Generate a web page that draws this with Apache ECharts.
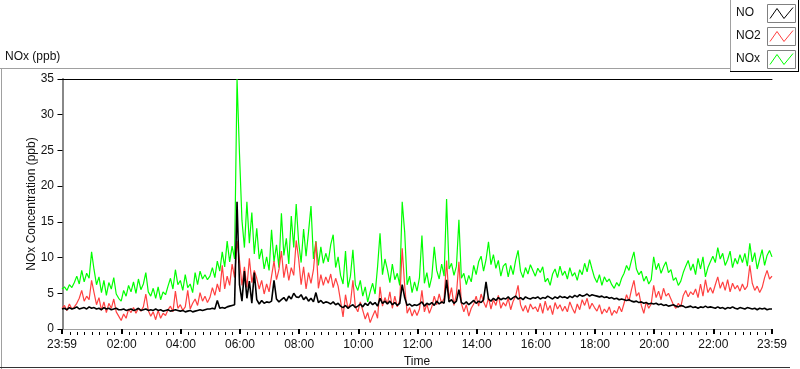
<!DOCTYPE html>
<html>
<head>
<meta charset="utf-8">
<script src="https://cdn.jsdelivr.net/npm/echarts@6/dist/echarts.min.js"></script>
<style>
  html, body { margin: 0; padding: 0; background: #fff; }
  #chart { width: 800px; height: 369px; }
</style>
</head>
<body>
<div id="chart"></div>
<script>
// samples every 5 minutes, starting at 23:59 (minute -1 of the day)
const stepMinutes = 5
const startMinute = -1

const seriesNames = ['NO', 'NO2', 'NOx']

// x axis: minutes from midnight and the labels shown at them
const tickMinutes = [-1, 120, 240, 360, 480, 600, 720, 840, 960, 1080, 1200, 1320, 1439]
const tickLabels = ['23:59', '02:00', '04:00', '06:00', '08:00', '10:00', '12:00', '14:00', '16:00', '18:00', '20:00', '22:00', '23:59']

// NO (ppb), one row per hour
const noValues = [
  2.8, 2.9, 2.7, 3.0, 2.8, 2.9, 3.1, 2.8, 2.9, 3.0, 2.8, 3.1,
  2.9, 3.0, 2.8, 2.9, 2.7, 3.0, 2.8, 2.9, 2.7, 2.8, 2.9, 2.7,
  2.7, 2.8, 2.6, 2.7, 2.8, 2.6, 2.7, 2.9, 2.6, 2.7, 2.8, 2.6,
  2.7, 2.6, 2.8, 2.6, 2.7, 2.5, 2.6, 2.7, 2.5, 2.6, 2.7, 2.6,
  2.5, 2.6, 2.4, 2.5, 2.6, 2.4, 2.5, 2.6, 2.7, 2.6, 2.7, 2.8,
  2.8, 2.9, 2.8, 4.0, 2.9, 3.0, 2.9, 3.1, 3.2, 3.3, 3.4, 17.8,
  6.2, 3.9, 8.1, 4.3, 6.7, 3.6, 7.9, 4.1, 3.5, 4.0, 3.6, 3.8,
  3.7, 3.9, 6.8, 4.2, 3.8, 4.1, 4.4, 3.9, 4.6, 4.2, 5.0, 4.5,
  4.4, 4.8, 4.1, 4.5, 3.9, 4.3, 3.8, 5.1, 3.7, 4.0, 3.6, 3.8,
  3.7, 3.5, 3.8, 3.4, 3.6, 3.2, 3.0, 3.3, 2.9, 3.2, 3.4, 3.0,
  3.2, 3.5, 3.1, 3.6, 3.3, 3.8, 3.4, 3.7, 3.2, 4.3, 3.6, 3.9,
  3.5, 3.9, 3.4, 3.7, 3.3, 3.6, 6.2, 4.4, 3.3, 3.5, 3.2, 3.4,
  3.3, 3.5, 3.8, 3.2, 3.6, 3.4, 3.7, 3.3, 3.9, 3.5, 3.8, 3.6,
  6.9, 3.8, 4.1, 3.6, 3.9, 5.5, 3.7, 3.5, 3.8, 3.4, 3.7, 4.0,
  3.6, 3.9, 3.7, 4.1, 6.6, 4.2, 3.9, 4.3, 4.0, 4.4, 4.1, 4.3,
  4.2, 4.5, 4.1, 4.4, 4.6, 4.2, 4.4, 4.1, 4.5, 4.3, 4.2, 4.4,
  4.3, 4.5, 4.2, 4.4, 4.3, 4.6, 4.4, 4.2, 4.5, 4.3, 4.6, 4.4,
  4.5, 4.3, 4.6, 4.4, 4.7, 4.5, 4.8, 4.6, 4.7, 4.9, 4.6, 4.8,
  4.7, 4.6, 4.5, 4.6, 4.4, 4.5, 4.3, 4.4, 4.2, 4.3, 4.1, 4.2,
  4.1, 4.0, 4.1, 3.9, 3.8, 3.9, 3.7, 3.8, 3.6, 3.7, 3.5, 3.6,
  3.5, 3.6, 3.4, 3.5, 3.3, 3.4, 3.2, 3.3, 3.4, 3.2, 3.1, 3.3,
  3.2, 3.0, 3.1, 3.2, 3.0, 3.1, 2.9, 3.1, 3.0, 3.2, 3.0, 3.1,
  3.0, 2.9, 3.1, 2.9, 3.0, 2.8, 3.0, 2.9, 3.1, 2.9, 2.8, 3.0,
  2.9, 2.8, 3.0, 2.9, 2.8, 2.9, 2.7, 2.9, 2.8, 2.9, 2.7, 2.8,
  2.8
]

// NO2 (ppb)
const no2Values = [
  2.9, 3.3, 2.6, 3.5, 2.8, 3.1, 3.6, 4.3, 5.4, 3.9, 4.6, 4.1,
  6.8, 5.1, 3.4, 4.4, 2.6, 3.8, 2.3, 3.6, 2.9, 4.2, 2.4, 1.8,
  1.2, 2.1, 1.5, 2.8, 2.3, 3.0, 2.2, 2.9, 2.5, 3.1, 4.9, 2.6,
  1.8, 2.4, 1.3, 2.6, 1.5, 2.2, 1.9, 2.7, 3.2, 2.4, 5.3, 2.9,
  3.4, 2.6, 3.1, 5.4, 2.8, 3.6, 4.2, 3.3, 5.1, 3.9, 4.6, 3.7,
  4.4, 5.8, 4.7, 6.3, 5.2, 8.9, 5.6, 7.4, 6.1, 9.1, 7.2, 12.3,
  9.6, 6.1, 8.7, 5.8, 9.9, 6.5, 8.2, 7.1, 5.6, 6.8, 4.9, 6.3,
  5.2, 7.4, 9.5, 6.9, 8.3, 10.9, 7.2, 9.1, 6.8, 8.6, 7.5, 12.4,
  9.8, 6.2, 8.7, 5.6, 7.9, 6.4, 8.3, 12.2, 5.7, 7.6, 6.1, 7.3,
  6.4, 7.7, 5.8, 7.1, 6.0, 3.9, 1.7, 4.8, 2.9, 3.6, 6.8, 3.1,
  2.4, 3.8, 2.6, 1.4, 2.3, 0.9, 1.8, 2.6, 1.5, 5.9, 3.2, 4.4,
  3.5, 5.2, 2.9, 4.6, 3.1, 4.0, 11.3, 6.1, 2.2, 3.0, 1.8, 2.7,
  1.9, 2.8, 5.4, 2.4, 3.5, 2.2, 3.1, 4.6, 3.4, 4.9, 3.6, 4.3,
  9.6, 4.2, 5.8, 3.3, 4.9, 9.4, 3.6, 2.4, 3.4, 1.8, 2.9, 3.5,
  4.6, 3.2, 4.9, 3.8, 3.0, 4.4, 2.8, 4.1, 3.3, 4.7, 2.9, 3.7,
  3.2, 4.3, 2.7, 3.9, 4.6, 6.1, 3.4, 2.5, 3.3, 2.3, 3.5, 2.8,
  3.1, 2.4, 3.6, 2.2, 3.9, 2.6, 3.3, 2.0, 3.7, 2.8, 3.4, 2.5,
  3.2, 2.4, 3.8, 2.9, 2.2, 3.5, 2.7, 4.1, 3.3, 4.3, 2.8, 3.6,
  3.0, 2.5, 3.4, 2.1, 2.8, 2.3, 3.1, 1.9, 2.6, 2.2, 3.2, 2.4,
  3.6, 4.8, 3.9, 5.5, 6.8, 4.6, 5.1, 3.3, 2.2, 3.8, 2.9, 3.5,
  6.1, 4.4, 5.3, 4.1, 5.7, 4.6, 5.0, 4.2, 3.4, 2.9, 3.6, 3.1,
  4.7, 5.4, 4.5, 5.2, 4.8, 5.6, 4.4, 6.3, 4.6, 6.9, 5.1, 5.8,
  5.0, 6.2, 7.3, 5.7, 6.6, 5.4, 6.9, 5.2, 6.4, 5.6, 6.1, 5.3,
  6.3, 5.5, 6.0, 8.9, 6.4, 5.4, 6.0, 5.1, 5.8, 7.2, 8.2, 7.0,
  7.4
]

// NOx (ppb)
const noxValues = [
  5.6, 5.9, 5.4, 6.2, 5.8, 6.5, 7.4, 6.3, 8.2, 6.6, 7.8, 7.1,
  10.8, 8.3, 6.2, 7.3, 5.1, 6.8, 4.7, 6.5, 5.6, 7.2, 4.9, 4.3,
  3.9, 5.4, 4.6, 6.1, 5.2, 6.6, 5.0, 7.0, 5.5, 6.3, 7.9, 5.2,
  4.6, 5.7, 4.3, 5.9, 4.1, 5.2, 4.8, 6.0, 7.1, 5.6, 8.3, 6.2,
  6.8, 5.4, 7.6, 5.8, 6.3, 5.1, 7.9, 6.2, 8.1, 7.0, 7.6, 6.9,
  7.4, 8.6, 7.2, 9.5, 8.1, 10.8, 8.7, 12.3, 9.4, 11.6, 9.8, 35.0,
  24.5, 15.2, 11.4, 17.8, 12.0, 16.3, 10.5, 14.1, 9.8, 11.2, 8.4, 10.1,
  8.2, 13.9, 9.4, 11.8, 8.6, 16.2, 10.3, 12.7, 9.1, 15.8, 11.4, 17.5,
  12.1, 9.3, 14.0, 10.2, 13.6, 17.2, 9.8, 12.3, 8.9, 11.5, 9.2, 10.6,
  9.4, 11.8, 13.2, 8.6, 10.1, 7.5, 6.3, 10.9, 5.8, 7.4, 11.1, 6.2,
  5.4, 6.8, 4.6, 5.9, 3.8, 5.2, 6.4, 4.9, 8.7, 13.4, 7.6, 9.8,
  8.3, 6.5, 9.1, 6.9, 7.8, 6.1, 17.8, 13.6, 6.2, 7.4, 5.1, 6.6,
  5.3, 7.2, 13.1, 6.4, 7.9, 5.8, 7.3, 11.5, 8.2, 7.0, 9.1, 7.4,
  18.2, 8.4, 9.2, 7.5, 8.8, 15.3, 7.1, 7.8, 6.2, 7.5, 6.6, 8.9,
  7.6, 9.4, 10.2, 8.1, 9.7, 12.2, 9.0, 10.4, 8.5, 9.6, 7.4, 8.8,
  9.2, 7.3, 8.9, 7.6, 9.6, 11.0, 8.1, 7.2, 8.6, 7.7, 9.0, 8.2,
  7.4, 8.5, 7.9, 8.7, 6.6, 7.1, 6.1, 7.7, 8.4, 7.2, 8.8, 7.5,
  8.1, 7.0, 8.6, 7.4, 7.9, 6.8, 8.3, 7.6, 9.2, 8.0, 9.7, 8.4,
  7.2, 6.5, 7.6, 6.1, 7.3, 6.6, 7.0, 6.2, 5.7, 6.5, 6.0, 7.1,
  7.8, 8.9, 8.2, 9.6, 10.8, 8.4, 7.6, 8.1, 6.7, 7.4, 6.3, 6.9,
  10.1, 8.3, 9.2, 7.8, 8.7, 9.4, 7.9, 8.3, 6.8, 7.2, 6.1, 6.7,
  7.9, 8.8, 9.6, 8.2, 9.1, 7.6, 9.9, 8.4, 10.1, 7.3, 8.6, 9.4,
  10.2, 9.3, 11.4, 9.8, 10.6, 8.9, 9.7, 10.9, 8.6, 9.9, 9.1, 10.4,
  9.3, 10.6, 8.8, 12.0, 9.4, 10.7, 8.4, 9.8, 11.1, 8.9, 10.3, 11.0,
  10.1
]

const seriesColors = ['#000000', '#ff4040', '#00ff00']

function toPoints(values) {
  return values.map((v, i) => [startMinute + i * stepMinutes, v])
}

// minor ticks every 15 minutes, majors every 2 hours
const minorTicks = []
for (let m = 15; m < 1439; m += 15) {
  if (m % 120 !== 0) minorTicks.push(m)
}

const font = 'Liberation Sans'
const textColor = '#111'

const myChart = echarts.init(document.getElementById('chart'))

const baseX = {
  type: 'value',
  min: -1,
  max: 1439,
  splitLine: { show: false }
}

let option = {
  animation: false,
  textStyle: { fontFamily: font },
  grid: {
    left: 62,
    right: 28,
    top: 79,
    bottom: 40,
    outerBoundsMode: 'none'
  },
  xAxis: [
    {
      ...baseX,
      position: 'bottom',
      name: 'Time',
      nameLocation: 'middle',
      nameGap: 27,
      nameMoveOverlap: false,
      nameTextStyle: { color: textColor, fontSize: 12, fontFamily: font },
      axisLine: { lineStyle: { color: '#a0a0a0', width: 1 } },
      axisTick: { show: false },
      axisLabel: {
        customValues: tickMinutes,
        formatter: (val) => tickLabels[tickMinutes.indexOf(val)],
        color: textColor,
        fontSize: 12,
        fontFamily: font,
        margin: 10
      }
    },
    {
      // major ticks
      ...baseX,
      position: 'bottom',
      offset: 3,
      axisLine: { show: false },
      axisLabel: { show: false },
      axisTick: {
        customValues: tickMinutes,
        length: 5,
        lineStyle: { color: '#000', width: 2 }
      }
    },
    {
      // minor ticks
      ...baseX,
      position: 'bottom',
      offset: 3,
      axisLine: { show: false },
      axisLabel: { show: false },
      axisTick: {
        customValues: minorTicks,
        length: 3,
        lineStyle: { color: '#000', width: 1 }
      }
    },
    {
      // top frame line
      ...baseX,
      position: 'top',
      axisLine: { lineStyle: { color: '#000', width: 1 } },
      axisTick: { show: false },
      axisLabel: { show: false }
    }
  ],
  yAxis: [
    {
      type: 'value',
      min: 0,
      max: 35,
      interval: 5,
      position: 'left',
      name: 'NOx Concentration (ppb)',
      nameLocation: 'middle',
      nameGap: 24,
      nameMoveOverlap: false,
      nameTextStyle: { color: textColor, fontSize: 12, fontFamily: font },
      axisLine: { show: true, lineStyle: { color: '#000', width: 1.5 } },
      axisTick: { show: true, length: 5, lineStyle: { color: '#000' } },
      axisLabel: { color: textColor, fontSize: 12, fontFamily: font, margin: 8 },
      splitLine: { show: false }
    },
    {
      type: 'value',
      min: 0,
      max: 35,
      position: 'right',
      axisLine: { show: true, lineStyle: { color: '#a0a0a0', width: 1.5 } },
      axisTick: { show: false },
      axisLabel: { show: false },
      splitLine: { show: false }
    }
  ],
  series: [
    {
      name: 'NOx',
      type: 'line',
      data: toPoints(noxValues),
      showSymbol: false,
      symbol: 'none',
      lineStyle: { color: seriesColors[2], width: 1.2 },
      z: 2
    },
    {
      name: 'NO2',
      type: 'line',
      data: toPoints(no2Values),
      showSymbol: false,
      symbol: 'none',
      lineStyle: { color: seriesColors[1], width: 1.2 },
      z: 3
    },
    {
      name: 'NO',
      type: 'line',
      data: toPoints(noValues),
      showSymbol: false,
      symbol: 'none',
      lineStyle: { color: seriesColors[0], width: 1.6 },
      z: 4
    }
  ],
  graphic: [
    // panel frame
    { type: 'line', shape: { x1: 0, y1: 68.5, x2: 730, y2: 68.5 }, style: { stroke: '#a0a0a0', lineWidth: 1 } },
    { type: 'line', shape: { x1: 1.5, y1: 68, x2: 1.5, y2: 369 }, style: { stroke: '#a0a0a0', lineWidth: 1 } },
    { type: 'line', shape: { x1: 0, y1: 367.5, x2: 790, y2: 367.5 }, style: { stroke: '#333', lineWidth: 1 } },
    {
      type: 'text', left: 5, top: 51,
      style: { text: 'NOx (ppb)', fill: textColor, font: '12px "Liberation Sans"' }
    },
    // legend box
    { type: 'rect', shape: { x: 730.5, y: -1, width: 68, height: 72.5 }, style: { fill: '#fff', stroke: '#a0a0a0', lineWidth: 1 } },
    { type: 'line', shape: { x1: 798.5, y1: 0, x2: 798.5, y2: 72 }, style: { stroke: '#000', lineWidth: 1 } },
    { type: 'line', shape: { x1: 730, y1: 71.5, x2: 799, y2: 71.5 }, style: { stroke: '#000', lineWidth: 1 } }
  ]
}

// legend rows: label and a small boxed zig-zag in the series colour
seriesNames.forEach((name, i) => {
  const y0 = 4.5 + i * 23
  option.graphic.push(
    {
      type: 'text', left: 736, top: y0 + 2,
      style: { text: name, fill: textColor, font: '12px "Liberation Sans"' }
    },
    { type: 'rect', shape: { x: 767.5, y: y0, width: 28, height: 18 }, style: { fill: '#fff', stroke: '#808080', lineWidth: 1 } },
    {
      type: 'polyline',
      shape: { points: [[770, y0 + 14], [777, y0 + 4], [784, y0 + 14], [793, y0 + 3]] },
      style: { stroke: seriesColors[i], lineWidth: 1, fill: null }
    }
  )
})

myChart.setOption(option)
window.onresize = myChart.resize
</script>
</body>
</html>
